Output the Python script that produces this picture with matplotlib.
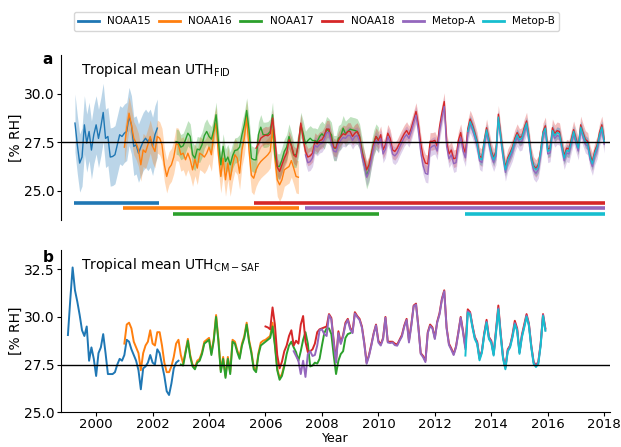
import numpy as np
import matplotlib
matplotlib.use("Agg")
import matplotlib.pyplot as plt

SATS = ["NOAA15", "NOAA16", "NOAA17", "NOAA18", "Metop-A", "Metop-B"]
COLORS = ["#1f77b4", "#ff7f0e", "#2ca02c", "#d62728", "#9467bd", "#17becf"]

# ---- panel a: FID tropical mean UTH (monthly), start year of each series
a_start = [1999 + 3/12, 2001.0, 2002 + 10/12, 2005 + 8/12, 2007 + 5/12, 2013 + 2/12]
a_noaa15 = [28.49, 27.37, 26.43, 26.74, 28.4, 27.46, 28.06, 27.1, 27.89,
            28.4, 27.7, 28.3, 29.04, 27.7, 27.8, 26.74, 26.77, 26.86, 27.37, 27.89, 27.8,
            27.97, 28.06, 28.83, 28.4, 27.29, 27.37, 26.94, 27.25, 27.54, 27.71, 27.54, 27.71,
            27.29, 27.89, 28.23]
a_noaa16 = [27.25, 28.23, 29.0, 28.4, 27.71, 27.46, 27.11, 26.34, 27.11, 26.98, 27.37, 27.8,
            27.29, 27.03, 27.8, 27.71, 27.37, 26.34, 25.74, 26.17, 26.34, 26.74, 27.42, 27.37,
            26.86, 26.94, 26.6, 26.94, 26.6, 26.08, 26.63, 26.17, 26.94, 26.86, 26.74, 26.94,
            27.25, 26.86, 27.97, 28.49, 26.86, 25.74, 26.68, 25.57, 26.43, 25.57, 26.34, 26.86,
            26.68, 25.91, 27.11, 27.71, 28.83, 27.11, 25.8, 25.65, 26.08, 26.34, 26.51, 26.63,
            26.74, 26.86, 27.03, 28.14, 26.68, 25.57, 25.31, 25.57, 26.08, 26.17, 26.25, 26.56,
            26.17, 25.74, 25.7]
a_noaa17 = [27.54, 27.49,
            27.25, 27.32, 27.63, 27.97, 27.8, 26.86, 26.68, 27.15, 27.11, 27.37, 27.84, 28.06,
            27.8, 27.66, 28.14, 28.92, 27.54, 26.34, 27.29, 26.51, 26.74, 26.34, 26.8, 27.08,
            27.11, 27.25, 27.89, 28.4, 29.14, 28.14, 26.68, 26.6, 26.6, 27.89, 28.28, 27.89,
            27.89, 27.92, 28.06, 28.92, 26.86, 26.26, 26.26, 26.6, 27.03, 27.25, 27.8, 27.37,
            26.86, 26.86, 27.37, 28.4, 27.97, 27.42, 27.59, 27.71, 27.59, 27.59, 27.54, 27.8,
            27.94, 27.8, 28.18, 28.06, 27.89, 27.2, 27.2, 27.71, 27.8, 28.23, 27.94, 28.06,
            28.18, 28.14, 28.11, 28.06, 27.8, 27.11, 26.4, 25.75, 26.1, 26.86, 27.46, 27.8,
            27.63]
a_noaa18 = [27.2, 27.42, 27.71, 27.8,
            27.87, 27.84, 27.94, 28.75, 27.71, 26.22, 26.0, 26.34, 26.68, 26.94, 27.63, 27.32,
            26.86, 26.74, 27.46, 28.49, 27.71, 27.03, 26.74, 26.8, 26.94, 27.54, 27.42, 27.59,
            27.63, 27.84, 28.18, 28.18, 27.63, 27.25, 27.2, 27.59, 27.8, 27.94, 27.89, 28.06,
            28.06, 27.8, 27.97, 28.06, 27.77, 26.98, 26.6, 26.08, 26.34, 26.86, 27.42, 27.8,
            27.59, 27.89, 27.11, 27.37, 27.97, 27.71, 27.11, 27.03, 27.2, 27.46, 27.71, 27.94,
            28.11, 27.89, 28.23, 28.66, 29.09, 28.4, 27.46, 26.77, 26.43, 26.39, 27.55, 27.55,
            27.6, 27.3, 28.3, 29.0, 29.6, 27.55, 26.9, 27.1, 26.65, 26.7, 27.6, 28.0,
            27.3, 26.95, 28.2, 28.7, 28.4, 28.0, 27.55, 26.8, 26.7, 27.6, 28.25, 27.65,
            27.05, 26.7, 27.05, 28.95, 27.9, 26.95, 26.2, 26.7, 26.95, 27.25, 27.7, 28.0,
            27.75, 27.8, 28.25, 28.6, 27.8, 26.8, 26.3, 26.15, 26.35, 27.1, 28.05, 28.35,
            27.15, 27.2, 28.25, 27.95, 28.1, 28.05, 27.4, 26.8, 27.2, 27.15, 27.65, 28.15,
            27.7, 27.3, 28.4, 28.0, 27.65, 27.55, 26.85, 26.5, 27.05, 27.35, 28.0, 28.4,
            27.65]
a_metopa = [26.85, 26.45, 26.5, 26.7, 27.35, 27.25, 27.4,
            27.45, 27.65, 28.0, 28.0, 27.45, 27.05, 27.0, 27.4, 27.6, 27.75, 27.7, 27.85,
            27.85, 27.6, 27.8, 27.85, 27.55, 26.8, 26.3, 25.7, 26.0, 26.6, 27.25, 27.6,
            27.4, 27.7, 26.9, 27.15, 27.8, 27.5, 26.9, 26.8, 26.95, 27.25, 27.5, 27.75,
            27.9, 27.7, 28.05, 28.5, 28.9, 28.1, 27.0, 26.3, 25.9, 25.85, 27.2, 27.3,
            27.35, 27.05, 28.05, 28.75, 29.35, 27.3, 26.65, 26.85, 26.4, 26.45, 27.35, 27.75,
            27.05, 26.7, 27.95, 28.45, 28.15, 27.75, 27.3, 26.55, 26.45, 27.35, 28.0, 27.4,
            26.8, 26.45, 26.8, 28.7, 27.65, 26.7, 25.95, 26.45, 26.7, 27.0, 27.45, 27.75,
            27.5, 27.55, 28.0, 28.35, 27.55, 26.55, 26.05, 25.9, 26.1, 26.85, 27.8, 28.1,
            26.9, 26.95, 28.0, 27.7, 27.85, 27.8, 27.15, 26.55, 26.95, 26.9, 27.4, 27.9,
            27.45, 27.05, 28.15, 27.75, 27.4, 27.3, 26.6, 26.25, 26.8, 27.1, 27.75, 28.15,
            27.4]
a_metopb = [28.06, 28.57, 28.28, 27.89, 27.46, 26.68, 26.6, 27.54, 28.14, 27.54,
            26.94, 26.6, 26.94, 28.8, 27.8, 26.86, 26.08, 26.6, 26.86, 27.15, 27.59, 27.89,
            27.63, 27.71, 28.14, 28.49, 27.71, 26.68, 26.22, 26.08, 26.25, 27.03, 27.97, 28.23,
            27.03, 27.11, 28.11, 27.84, 28.0, 27.94, 27.29, 26.68, 27.08, 27.03, 27.54, 28.06,
            27.59, 27.2, 28.28, 27.89, 27.54, 27.42, 26.74, 26.39, 26.94, 27.25, 27.89, 28.28,
            27.54]
# estimated half-width of the shaded uncertainty band
a_spread = [1.5, 0.85, 0.65, 0.45, 0.45, 0.3]

# coverage periods drawn as bars under panel a
cov_start = [1999.22, 2000.96, 2002.71, 2005.61, 2007.41, 2013.06]
cov_end = [2002.24, 2007.17, 2010.01, 2018.03, 2018.03, 2018.03]
cov_level = [24.36, 24.1, 23.82, 24.36, 24.1, 23.82]

# ---- panel b: CM-SAF tropical mean UTH (monthly)
b_start = [1999.0, 2001.0, 2003.0, 2006.0, 2007.0, 2013 + 1/12]
b_noaa15 = [29.05, 30.9, 32.6, 31.4, 30.8, 30.1, 29.3, 29.0, 29.5, 27.7, 28.4, 27.8,
            26.9, 28.1, 28.4, 29.1, 28.1, 27.0, 27.0, 27.0, 27.1, 27.5, 27.8, 27.7,
            28.0, 28.8, 28.7, 28.3, 28.0, 27.7, 27.2, 26.2, 27.3, 27.4, 27.6, 28.0,
            27.6, 27.5, 28.3, 28.1, 27.5, 26.9, 26.1, 25.9, 26.5, 27.3, 27.6, 27.7]
b_noaa16 = [28.6, 29.6, 29.7, 29.4, 28.7, 28.4, 28.1, 27.2, 28.1, 28.5, 28.7, 29.3,
            28.6, 28.5, 29.2, 29.2, 28.5, 27.6, 27.1, 27.1, 27.4, 27.9, 28.6, 28.8,
            28.0, 27.55, 28.2, 28.85, 28.0, 27.5, 27.35, 27.7, 27.8, 28.15, 28.7, 28.8,
            28.9, 28.1, 28.85, 30.1, 28.8, 27.2, 27.9, 26.9, 27.9, 27.1, 28.8, 28.7,
            28.25, 27.9, 28.6, 29.0, 29.7, 28.8, 28.2, 27.35, 27.2, 28.1, 28.65, 28.75,
            28.8, 28.9, 29.0, 29.7, 28.6, 27.3, 26.8, 27.0, 27.5]
b_noaa17 = [27.5, 27.45, 28.1, 28.75, 27.9, 27.4, 27.25, 27.6, 27.7, 28.05, 28.6, 28.7,
            28.8, 28.0, 28.75, 30.0, 28.7, 27.1, 27.8, 26.8, 27.8, 27.0, 28.7, 28.6,
            28.15, 27.8, 28.5, 28.9, 29.6, 28.7, 28.1, 27.25, 27.1, 28.0, 28.5, 28.6,
            28.7, 28.8, 28.9, 29.5, 28.5, 27.2, 26.7, 26.9, 27.4, 28.05, 28.5, 28.7,
            28.4, 28.15, 27.7, 28.2, 28.8, 29.2, 28.6, 27.4, 27.45, 27.6, 27.55, 27.8,
            28.5, 29.15, 29.4, 29.4, 29.1, 28.0, 27.0, 27.7, 28.05, 28.2, 28.9, 29.1,
            29.15]
b_noaa18 = [29.5, 29.45, 29.35, 30.5, 29.6, 28.0, 27.3, 27.65, 28.2, 28.5, 29.0, 29.3,
            28.5, 28.75, 28.6, 29.6, 30.05, 28.7, 28.15, 28.2, 28.3, 28.6, 29.2, 29.35,
            29.4, 29.45, 29.5, 30.15, 29.95, 28.75, 27.7, 29.25, 28.65, 29.05, 29.7, 29.9,
            29.45, 29.2, 30.25, 30.05, 29.9, 29.5, 28.65, 27.6, 28.0, 28.55, 29.15, 29.6,
            28.75, 28.55, 28.9, 30.0, 28.7, 28.7, 28.7, 28.6, 28.55, 28.8, 29.05, 29.55,
            29.9, 28.75, 29.6, 30.6, 30.7, 29.5, 28.1, 27.95, 27.7, 29.2, 29.6, 29.45,
            28.9, 29.75, 30.2, 30.95, 31.4, 29.45, 28.6, 28.35, 28.05, 28.45, 29.2, 30.0,
            29.25, 28.4, 30.4, 30.25, 29.55, 28.95, 28.7, 27.85, 28.2, 29.15, 29.85, 28.95,
            28.75, 28.05, 29.3, 30.6, 29.15, 27.9, 27.35, 28.3, 28.5, 29.05, 29.8, 29.4,
            28.15, 29.05, 29.6, 30.15, 29.65, 28.5, 27.65, 27.45, 27.65, 28.6, 30.15, 29.4]
b_metopa = [28.2, 27.95, 27.7, 27.0, 27.7, 26.85, 28.05, 28.2, 27.95, 28.0, 28.5, 29.3,
            29.35, 29.1, 29.0, 30.1, 29.87, 28.66, 27.6, 29.15, 28.58, 28.97, 29.61, 29.84,
            29.35, 29.15, 30.18, 30.0, 29.84, 29.44, 28.58, 27.54, 27.94, 28.49, 29.1, 29.56,
            28.66, 28.5, 28.84, 29.96, 28.66, 28.63, 28.66, 28.52, 28.49, 28.75, 28.97, 29.49,
            29.84, 28.66, 29.53, 30.56, 30.65, 29.44, 28.06, 27.89, 27.63, 29.15, 29.53, 29.39,
            28.84, 29.7, 30.13, 30.9, 31.35, 29.4, 28.53, 28.28, 28.0, 28.4, 29.15, 29.96,
            29.18, 28.3, 30.3, 30.2, 29.5, 28.9, 28.65, 27.8, 28.18, 29.1, 29.75, 28.9,
            28.7, 28.03, 29.22, 30.45, 29.08, 27.86, 27.32, 28.24, 28.46, 28.98, 29.68, 29.33,
            28.12, 28.98, 29.5, 30.07, 29.6, 28.46, 27.6, 27.43, 27.6, 28.56, 30.1, 29.33]
b_metopb = [27.97, 30.22, 30.13, 29.44, 28.84, 28.58, 27.72, 28.11, 29.04, 29.7, 28.84,
            28.63, 27.97, 29.15, 30.39, 29.01, 27.8, 27.25, 28.18, 28.4, 28.92, 29.61, 29.27,
            28.06, 28.92, 29.44, 30.01, 29.53, 28.4, 27.54, 27.37, 27.54, 28.5, 30.05, 29.27]

a_series = [a_noaa15, a_noaa16, a_noaa17, a_noaa18, a_metopa, a_metopb]
b_series = [b_noaa15, b_noaa16, b_noaa17, b_noaa18, b_metopa, b_metopb]


def months(start, vals):
    return start + np.arange(len(vals)) / 12.0


fig = plt.figure(figsize=(6.21, 4.47), dpi=100)
ax1 = fig.add_axes([0.098, 0.508, 0.884, 0.369])
ax2 = fig.add_axes([0.098, 0.078, 0.884, 0.362])

for vals, t0, sp, c in zip(a_series, a_start, a_spread, COLORS):
    t = months(t0, vals)
    v = np.array(vals)
    ax1.fill_between(t, v - sp, v + sp, color=c, alpha=0.3, lw=0)
    ax1.plot(t, v, color=c, lw=1.0)
for s, e, lev, c in zip(cov_start, cov_end, cov_level, COLORS):
    ax1.plot([s, e], [lev, lev], color=c, lw=2.6, solid_capstyle='butt')

for vals, t0, c, name in zip(b_series, b_start, COLORS, SATS):
    ax2.plot(months(t0, vals), vals, color=c, lw=1.4, label=name)

for ax in (ax1, ax2):
    ax.axhline(27.5, color='k', lw=1.0, zorder=10)
    ax.set_xlim(1998.75, 2018.2)
    ax.spines['top'].set_visible(False)
    ax.spines['right'].set_visible(False)
    ax.set_ylabel('[% RH]', fontsize=10)
    ax.yaxis.set_label_coords(-0.07, 0.5)
    ax.tick_params(axis='y', labelsize=10, length=3, pad=1.5)

ax1.set_ylim(23.5, 32.0)
ax1.set_yticks([25.0, 27.5, 30.0])
ax1.spines['bottom'].set_visible(False)
ax1.set_xticks([])

ax2.set_ylim(25.0, 33.5)
ax2.set_yticks([25.0, 27.5, 30.0, 32.5])
ax2.set_xticks(range(2000, 2019, 2))
ax2.tick_params(axis='x', labelsize=9.5, length=3, pad=1)
ax2.set_xlabel('Year', fontsize=9, labelpad=0)
ax2.xaxis.set_label_coords(0.5, -0.123)

ax1.text(0.036, 0.91, r'Tropical mean UTH$_{\mathrm{FID}}$', transform=ax1.transAxes,
         fontsize=10, ha='left', va='center')
ax2.text(0.036, 0.91, r'Tropical mean UTH$_{\mathrm{CM-SAF}}$', transform=ax2.transAxes,
         fontsize=10, ha='left', va='center')
fig.text(0.077, 0.866, 'a', fontsize=11, fontweight='bold', ha='center', va='center')
fig.text(0.077, 0.423, 'b', fontsize=11, fontweight='bold', ha='center', va='center')

leg_lines = [plt.Line2D([], [], color=c, lw=2) for c in COLORS]
fig.legend(leg_lines, SATS, loc='center', bbox_to_anchor=(0.51, 0.952), ncol=6,
           fontsize=7.5, handlelength=2.0, columnspacing=0.8, frameon=True)

plt.savefig('out.png', dpi=100)
